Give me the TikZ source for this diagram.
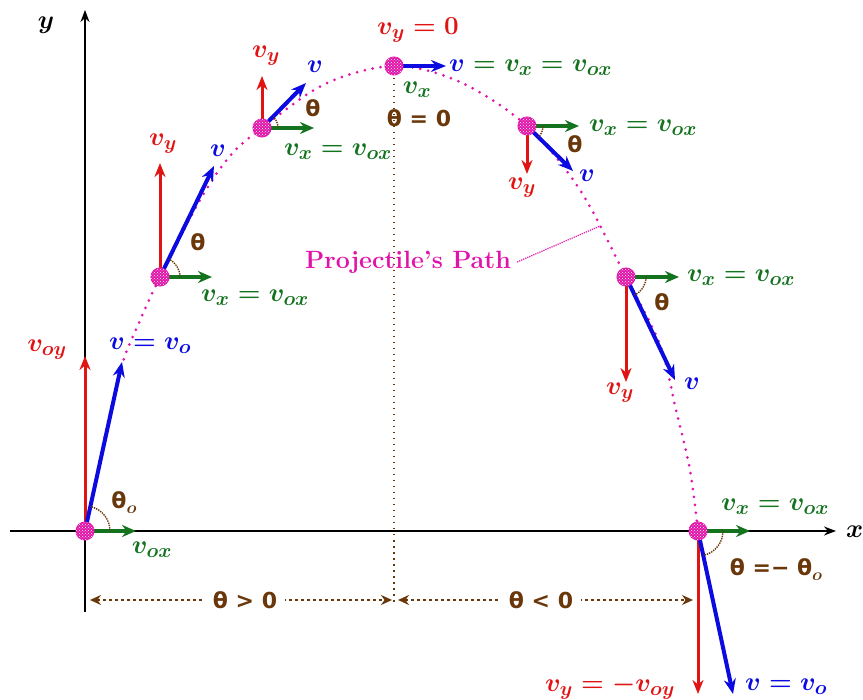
\RequirePackage{fix-cm}
\documentclass[tikz,border=0pt]{standalone}
\usepackage{fontspec}
\newfontfamily\thfont{DejaVu Sans}[BoldFont=DejaVu Sans Bold]
\DeclareMathSizes{26}{26}{20}{16}
\usetikzlibrary{arrows.meta,patterns,calc}
\definecolor{vred}{RGB}{225,20,20}
\definecolor{vblue}{RGB}{10,10,225}
\definecolor{vgreen}{RGB}{20,115,30}
\definecolor{thbrown}{RGB}{105,55,10}
\definecolor{ppink}{RGB}{225,20,170}
\newcommand{\thsub}{\raisebox{-5pt}{\fontsize{17}{17}\selectfont\boldmath$o$}}
\tikzset{
  vyarr/.style={draw=vred, line width=3pt, -{Stealth[length=14pt,width=11pt]}},
  varr/.style={draw=vblue, line width=4pt, -{Stealth[length=15pt,width=12pt]}},
  vxarr/.style={draw=vgreen, line width=3.2pt, -{Stealth[length=14pt,width=12pt]}},
  anglearc/.style={draw=thbrown, line width=1.4pt, densely dotted},
  ball/.style={circle, minimum size=18pt, inner sep=0pt, fill=ppink, draw=ppink, line width=1pt,
    postaction={pattern=crosshatch dots, pattern color=white}},
  lab/.style={font=\fontsize{26}{28}\selectfont\boldmath, inner sep=0pt},
  thlab/.style={text=thbrown, font=\thfont\bfseries\fontsize{22}{24}\selectfont, inner sep=0pt},
  axisline/.style={draw=black, line width=1.6pt},
  ppath/.style={draw=ppink, line width=3pt, dash pattern=on 0pt off 8pt, line cap=round},
  dimarr/.style={draw=thbrown, line width=1.4pt, dash pattern=on 3pt off 3pt,
    {Stealth[length=11pt,width=10pt]}-{Stealth[length=11pt,width=10pt]}},
}
\begin{document}
\begin{tikzpicture}[x=1pt,y=-1pt]
\useasboundingbox (0,0) rectangle (863,700);
% axes
\coordinate (ybot) at (85,612);
\coordinate (ytop) at (85,10);
\coordinate (xl) at (10,531);
\coordinate (xr) at (836,531);
\draw[axisline, -{Stealth[length=12pt,width=9pt]}] (ybot) -- (ytop);
\draw[axisline, -{Stealth[length=12pt,width=9pt]}] (xl) -- (xr);
\node[lab] (ylab) at (46,25) {$y$};
\node[lab, anchor=west] (xlab) at (846,532) {$x$};
% ball centres
\coordinate (p1) at (85,531);
\coordinate (p2) at (160,277);
\coordinate (p3) at (262,128);
\coordinate (p4) at (394,66);
\coordinate (p5) at (527,126);
\coordinate (p6) at (626,277);
\coordinate (p7) at (698,531);
% path
\draw[ppath] plot[smooth, tension=0.55] coordinates {(85,531) (104,440) (122,365) (138,325) (160,277) (200,200) (230,156) (262,128) (325,84) (394,66) (460,82) (527,126) (580,190) (626,277) (660,345) (676,410) (690,470) (698,531)};
% apex dotted vertical line
\coordinate (vbot) at (394,606);
\draw[draw=thbrown, line width=1.6pt, dash pattern=on 1.5pt off 4.5pt] (p4) -- (vbot);
% leader
\node[text=ppink, font=\fontsize{25}{27}\selectfont\bfseries, inner sep=0pt] (pplab) at (408,262) {Projectile's Path};
\coordinate (lead) at (600,226);
\draw[draw=ppink, line width=1.2pt, densely dotted] ([xshift=6pt]pplab.east) -- (lead);

% ---------- point 1
\coordinate (t1y) at (85,356);
\coordinate (t1v) at (122,362);
\coordinate (t1x) at (136,531);
\draw[vyarr] (p1) -- (t1y);
\draw[varr] (p1) -- (t1v);
\draw[vxarr] (p1) -- (t1x);
\draw[anglearc] ($(p1)+(25,0)$) arc[start angle=0, end angle=-78, radius=25];
\node[lab, text=vred] (l1y) at (47,350) {$v_{oy}$};
\node[lab, text=vblue] (l1v) at (150,346) {$v = v_o$};
\node[lab, text=vgreen] (l1x) at (152,550) {$v_{ox}$};
\node[thlab] (l1t) at (124,503) {θ\thsub};

% ---------- point 2
\coordinate (t2y) at (160,163);
\coordinate (t2v) at (214,166);
\coordinate (t2x) at (212,277);
\draw[vyarr] (p2) -- (t2y);
\draw[varr] (p2) -- (t2v);
\draw[vxarr] (p2) -- (t2x);
\draw[anglearc] ($(p2)+(20,0)$) arc[start angle=0, end angle=-64, radius=20];
\node[lab, text=vred] (l2y) at (163,144) {$v_y$};
\node[lab, text=vblue] (l2v) at (218,151) {$v$};
\node[lab, text=vgreen] (l2x) at (255,298) {$v_x = v_{ox}$};
\node[thlab] (l2t) at (198,242) {θ};

% ---------- point 3
\coordinate (t3y) at (262,76);
\coordinate (t3v) at (306,83);
\coordinate (t3x) at (314,128);
\draw[vyarr] (p3) -- (t3y);
\draw[varr] (p3) -- (t3v);
\draw[vxarr] (p3) -- (t3x);
\draw[anglearc] ($(p3)+(16,0)$) arc[start angle=0, end angle=-45, radius=16];
\node[lab, text=vred] (l3y) at (266,56) {$v_y$};
\node[lab, text=vblue] (l3v) at (315,67) {$v$};
\node[lab, text=vgreen] (l3x) at (338,152) {$v_x = v_{ox}$};
\node[thlab] (l3t) at (313,108) {θ};

% ---------- point 4 (apex)
\coordinate (t4v) at (446,66);
\draw[varr] (p4) -- (t4v);
\node[lab, text=vred] (l4y) at (418,30) {$v_y = 0$};
\node[lab, text=vgreen, anchor=west] (l4v) at (449,68) {$\textcolor{vblue}{v} = v_x = v_{ox}$};
\node[lab, text=vgreen] (l4x) at (417,90) {$v_x$};
\node[thlab] (l4t) at (419,118) {θ = 0};

% ---------- point 5
\coordinate (t5y) at (527,174);
\coordinate (t5v) at (573,171);
\coordinate (t5x) at (579,126);
\draw[vyarr] (p5) -- (t5y);
\draw[varr] (p5) -- (t5v);
\draw[vxarr] (p5) -- (t5x);
\draw[anglearc] ($(p5)+(16,0)$) arc[start angle=0, end angle=45, radius=16];
\node[lab, text=vred] (l5y) at (522,188) {$v_y$};
\node[lab, text=vblue] (l5v) at (587,176) {$v$};
\node[lab, text=vgreen] (l5x) at (643,128) {$v_x = v_{ox}$};
\node[thlab] (l5t) at (575,144) {θ};

% ---------- point 6
\coordinate (t6y) at (626,382);
\coordinate (t6v) at (675,380);
\coordinate (t6x) at (679,277);
\draw[vyarr] (p6) -- (t6y);
\draw[varr] (p6) -- (t6v);
\draw[vxarr] (p6) -- (t6x);
\draw[anglearc] ($(p6)+(20,0)$) arc[start angle=0, end angle=65, radius=20];
\node[lab, text=vred] (l6y) at (620,393) {$v_y$};
\node[lab, text=vblue] (l6v) at (692,384) {$v$};
\node[lab, text=vgreen] (l6x) at (741,278) {$v_x = v_{ox}$};
\node[thlab] (l6t) at (662,302) {θ};

% ---------- point 7
\coordinate (t7y) at (698,694);
\coordinate (t7v) at (733,694);
\coordinate (t7x) at (750,531);
\draw[vyarr] (p7) -- (t7y);
\draw[varr] (p7) -- (t7v);
\draw[vxarr] (p7) -- (t7x);
\draw[anglearc] ($(p7)+(25,0)$) arc[start angle=0, end angle=78, radius=25];
\node[lab, text=vgreen] (l7x) at (775,507) {$v_x = v_{ox}$};
\node[thlab] (l7t) at (776,570) {θ =− θ\thsub};
\node[lab, text=vred] (l7y) at (610,687) {$v_y = -v_{oy}$};
\node[lab, text=vblue] (l7v) at (786,687) {$v = v_o$};

% balls
\foreach \i in {1,...,7} {\node[ball] (ball\i) at (p\i) {};}

% dimension arrows
\coordinate (d1a) at (90,600);
\coordinate (d1b) at (392,600);
\coordinate (d2a) at (398,600);
\coordinate (d2b) at (693,600);
\draw[dimarr] (d1a) -- (d1b);
\draw[dimarr] (d2a) -- (d2b);
\node[thlab, fill=white, inner xsep=8pt, inner ysep=2pt] (dl1) at (245,600) {θ > 0};
\node[thlab, fill=white, inner xsep=8pt, inner ysep=2pt] (dl2) at (541,600) {θ < 0};
\end{tikzpicture}
\end{document}
